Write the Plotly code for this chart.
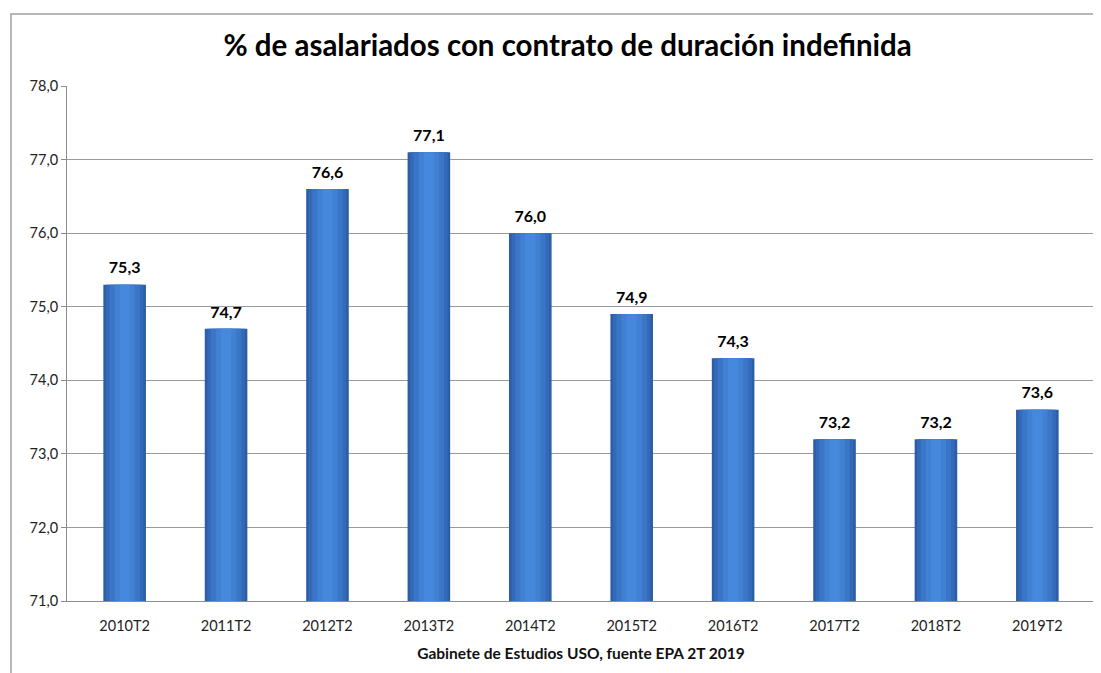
import plotly.graph_objects as go

periodos = ['2010T2', '2011T2', '2012T2', '2013T2', '2014T2',
            '2015T2', '2016T2', '2017T2', '2018T2', '2019T2']
valores = [75.3, 74.7, 76.6, 77.1, 76.0, 74.9, 74.3, 73.2, 73.2, 73.6]
etiquetas = [f"{v:.1f}".replace('.', ',') for v in valores]

titulo = "% de asalariados con contrato de duración indefinida"
fuente = "Gabinete de Estudios USO, fuente EPA 2T 2019"

fig = go.Figure()

# fake the Excel gradient with stacked-up layers of narrower, lighter bars
capas = [(0.42, '#2c5ea8'), (0.37, '#3469b8'), (0.30, '#3a75c8'),
         (0.20, '#4081d4'), (0.10, '#4688dc')]
for ancho, color in capas:
    fig.add_trace(go.Bar(
        x=periodos, y=valores,
        width=ancho,
        marker=dict(color=color, line=dict(width=0)),
        hoverinfo='skip', showlegend=False
    ))

# data labels (invisible marker just to push the text up)
fig.add_trace(go.Scatter(
    x=periodos, y=valores,
    mode='markers+text', text=etiquetas,
    marker=dict(size=10, opacity=0),
    textposition='top center',
    textfont=dict(size=16, color='black', family='Lato', weight='bold'),
    showlegend=False, cliponaxis=False, hoverinfo='skip'
))

# the page body has an 8px margin, so sizes/margins are trimmed by that
fig.update_layout(
    barmode='overlay',
    width=1093, height=665,
    margin=dict(l=59, r=6, t=78, b=72),
    paper_bgcolor='white', plot_bgcolor='white',
    separators=',.',
    font=dict(family='Lato', size=14, color='#222222'),
    title=dict(text=titulo, x=0.512, xanchor='center', y=0.944, yanchor='middle',
               font=dict(size=29.5, family='Lato', color='black', weight='bold')),
)

fig.update_xaxes(
    title=dict(text=fuente, font=dict(size=15.5, weight='bold', color='#111111'),
               standoff=14),
    showline=True, linecolor='#8c8c8c', linewidth=1,
    ticks='', showgrid=False, tickfont=dict(size=14.5),
    ticklabelstandoff=12
)
fig.update_yaxes(
    range=[71, 78], dtick=1, tickformat='.1f',
    showline=True, linecolor='#8c8c8c', linewidth=1,
    ticks='outside', ticklen=5, tickcolor='#8c8c8c',
    showgrid=True, gridcolor='#9a9a9a', gridwidth=1,
    tickfont=dict(size=14.5)
)

# outer chart border (Excel chart area)
fig.add_shape(type='rect', xref='paper', yref='paper',
              x0=-0.0545, x1=1.02, y0=-0.2, y1=1.1398,
              line=dict(color='#a0a0a0', width=1.5), layer='below')

fig.write_html("out.html")
